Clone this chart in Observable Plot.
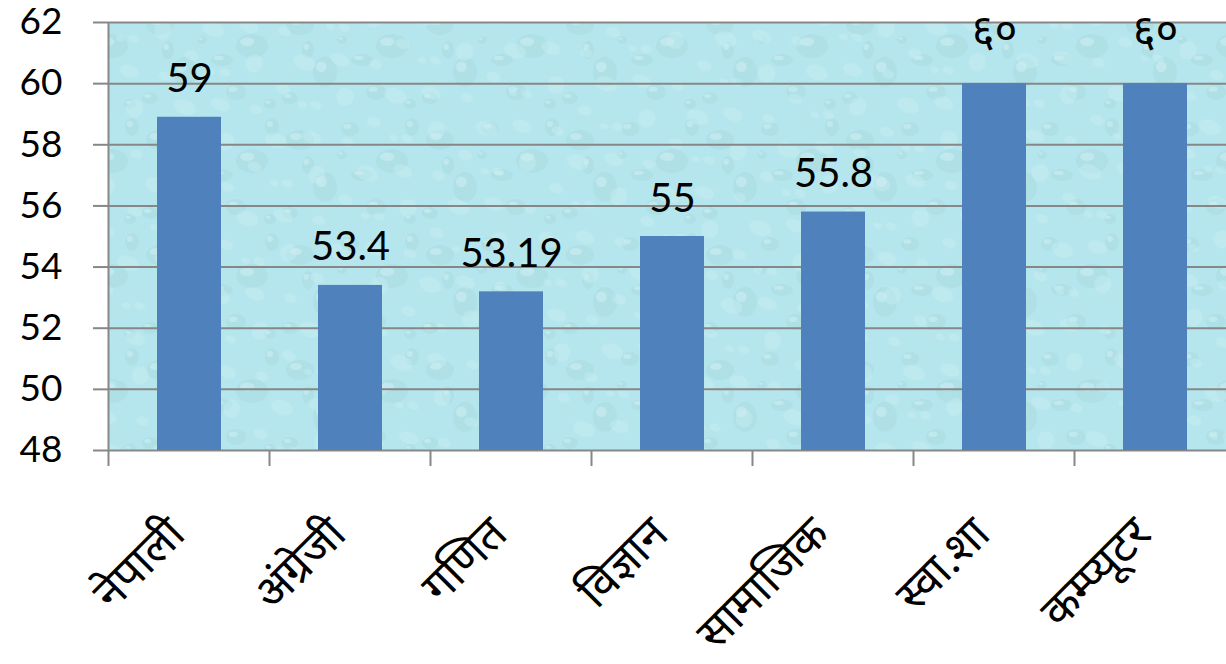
<!DOCTYPE html>
<html><head><meta charset="utf-8">
<script src="https://cdn.jsdelivr.net/npm/d3@7"></script>
<script src="https://cdn.jsdelivr.net/npm/@observablehq/plot@0.6"></script>
<style>html,body{margin:0;padding:0;background:#fff;overflow:hidden}</style>
</head><body><div id="chart"></div>
<script>
const subjects = ["नेपाली","अंग्रेजी","गणित","विज्ञान","सामाजिक","स्वा.शा","कम्प्यूटर"];
const scores = [58.9, 53.4, 53.19, 55, 55.8, 60, 60];
const scoreLabels = ["59","53.4","53.19","55","55.8","६०","६०"];
const yTicks = [48, 50, 52, 54, 56, 58, 60, 62];

const data = subjects.map((s, i) => ({subject: s, score: scores[i], label: scoreLabels[i]}));
const isDeva = d => /[०-९]/.test(d.label);
const GRAY = "#878787";
const FONT = "Lato, 'Noto Sans', 'Noto Sans Devanagari', sans-serif";

// decorative water-drop texture (style only)
const drops = [[20,25,14,10],[70,14,9,7],[112,46,16,12],[45,72,12,15],[96,92,10,8],[10,98,8,6],[130,104,6,5],[62,40,5,4],[132,12,7,9],[82,60,11,6],[28,50,6,9]];

function backgroundMark(index, scales, values, dim) {
  const x0 = dim.marginLeft, y0 = dim.marginTop;
  const w = dim.width - dim.marginLeft - dim.marginRight, h = dim.height - dim.marginTop - dim.marginBottom;
  const g = d3.create("svg:g");
  const defs = g.append("defs");
  const p = defs.append("pattern").attr("id", "drops").attr("patternUnits", "userSpaceOnUse")
    .attr("width", 140).attr("height", 115);
  p.append("rect").attr("width", 140).attr("height", 115).attr("fill", "#b6e6ed");
  for (const [cx, cy, rx, ry] of drops) {
    p.append("ellipse").attr("cx", cx).attr("cy", cy).attr("rx", rx).attr("ry", ry)
      .attr("fill", "#9fd2da").attr("opacity", 0.35);
    p.append("ellipse").attr("cx", cx - rx * 0.3).attr("cy", cy - ry * 0.35).attr("rx", rx * 0.45).attr("ry", ry * 0.35)
      .attr("fill", "#d6f3f7").attr("opacity", 0.45);
  }
  const p2 = defs.append("pattern").attr("id", "drops2").attr("patternUnits", "userSpaceOnUse")
    .attr("width", 97).attr("height", 83).attr("patternTransform", "translate(31,17) rotate(20)");
  for (const [cx, cy, rx, ry] of drops.slice(0, 7)) {
    p2.append("ellipse").attr("cx", cx * 0.7).attr("cy", cy * 0.7).attr("rx", rx * 0.7).attr("ry", ry * 0.6)
      .attr("fill", "#cdf0f4").attr("opacity", 0.35);
  }
  g.append("rect").attr("x", x0).attr("y", y0).attr("width", w).attr("height", h).attr("fill", "url(#drops)");
  g.append("rect").attr("x", x0).attr("y", y0).attr("width", w).attr("height", h).attr("fill", "url(#drops2)");
  return g.node();
}

function edgeTicksMark(index, scales, values, dim) {
  const x = scales.x, y = scales.y;
  const step = x.step(), inner = step - x.bandwidth();
  const yb = y(yTicks[0]), yt = y(yTicks[yTicks.length - 1]);
  const g = d3.create("svg:g").attr("stroke", GRAY).attr("stroke-width", 2);
  subjects.forEach(s => {
    const ex = x(s) - inner / 2;
    g.append("line").attr("x1", ex).attr("x2", ex).attr("y1", yb).attr("y2", yb + 16);
  });
  const x0 = x(subjects[0]) - inner / 2;
  g.append("line").attr("x1", x0).attr("x2", x0).attr("y1", yt).attr("y2", yb);
  return g.node();
}

const chart = Plot.plot({
  width: 1226, height: 664,
  marginLeft: 109, marginRight: 0, marginTop: 22, marginBottom: 214,
  style: {fontFamily: FONT, background: "transparent", overflow: "visible"},
  x: {domain: subjects, range: [109, 1236], paddingInner: 0.6, paddingOuter: 0.3, axis: null},
  y: {domain: [48, 62], axis: null},
  marks: [
    backgroundMark,
    Plot.ruleY(yTicks, {stroke: GRAY, strokeWidth: 2, strokeOpacity: 1}),
    Plot.axisY({ticks: yTicks, label: null, tickSize: 16, tickPadding: 31, fontSize: 37, stroke: GRAY, strokeWidth: 2, strokeOpacity: 1, color: "#000", tickFormat: d => String(d)}),
    Plot.barY(data, {x: "subject", y1: 48, y2: "score", fill: "#4f81bd"}),
    edgeTicksMark,
    Plot.text(data, {filter: d => !isDeva(d), x: "subject", y: "score", text: "label", lineAnchor: "bottom", dy: -25, fontSize: 40, fill: "#000"}),
    Plot.text(data, {filter: isDeva, x: "subject", y: "score", text: "label", lineAnchor: "bottom", dy: -38, fontSize: 44, fill: "#000"}),
    Plot.text(subjects, {x: d => d, frameAnchor: "bottom", rotate: -45, textAnchor: "end", lineAnchor: "bottom", dx: -2, dy: 86, fontSize: 46, fill: "#000"})
  ]
});
document.getElementById("chart").appendChild(chart);
</script></body></html>
